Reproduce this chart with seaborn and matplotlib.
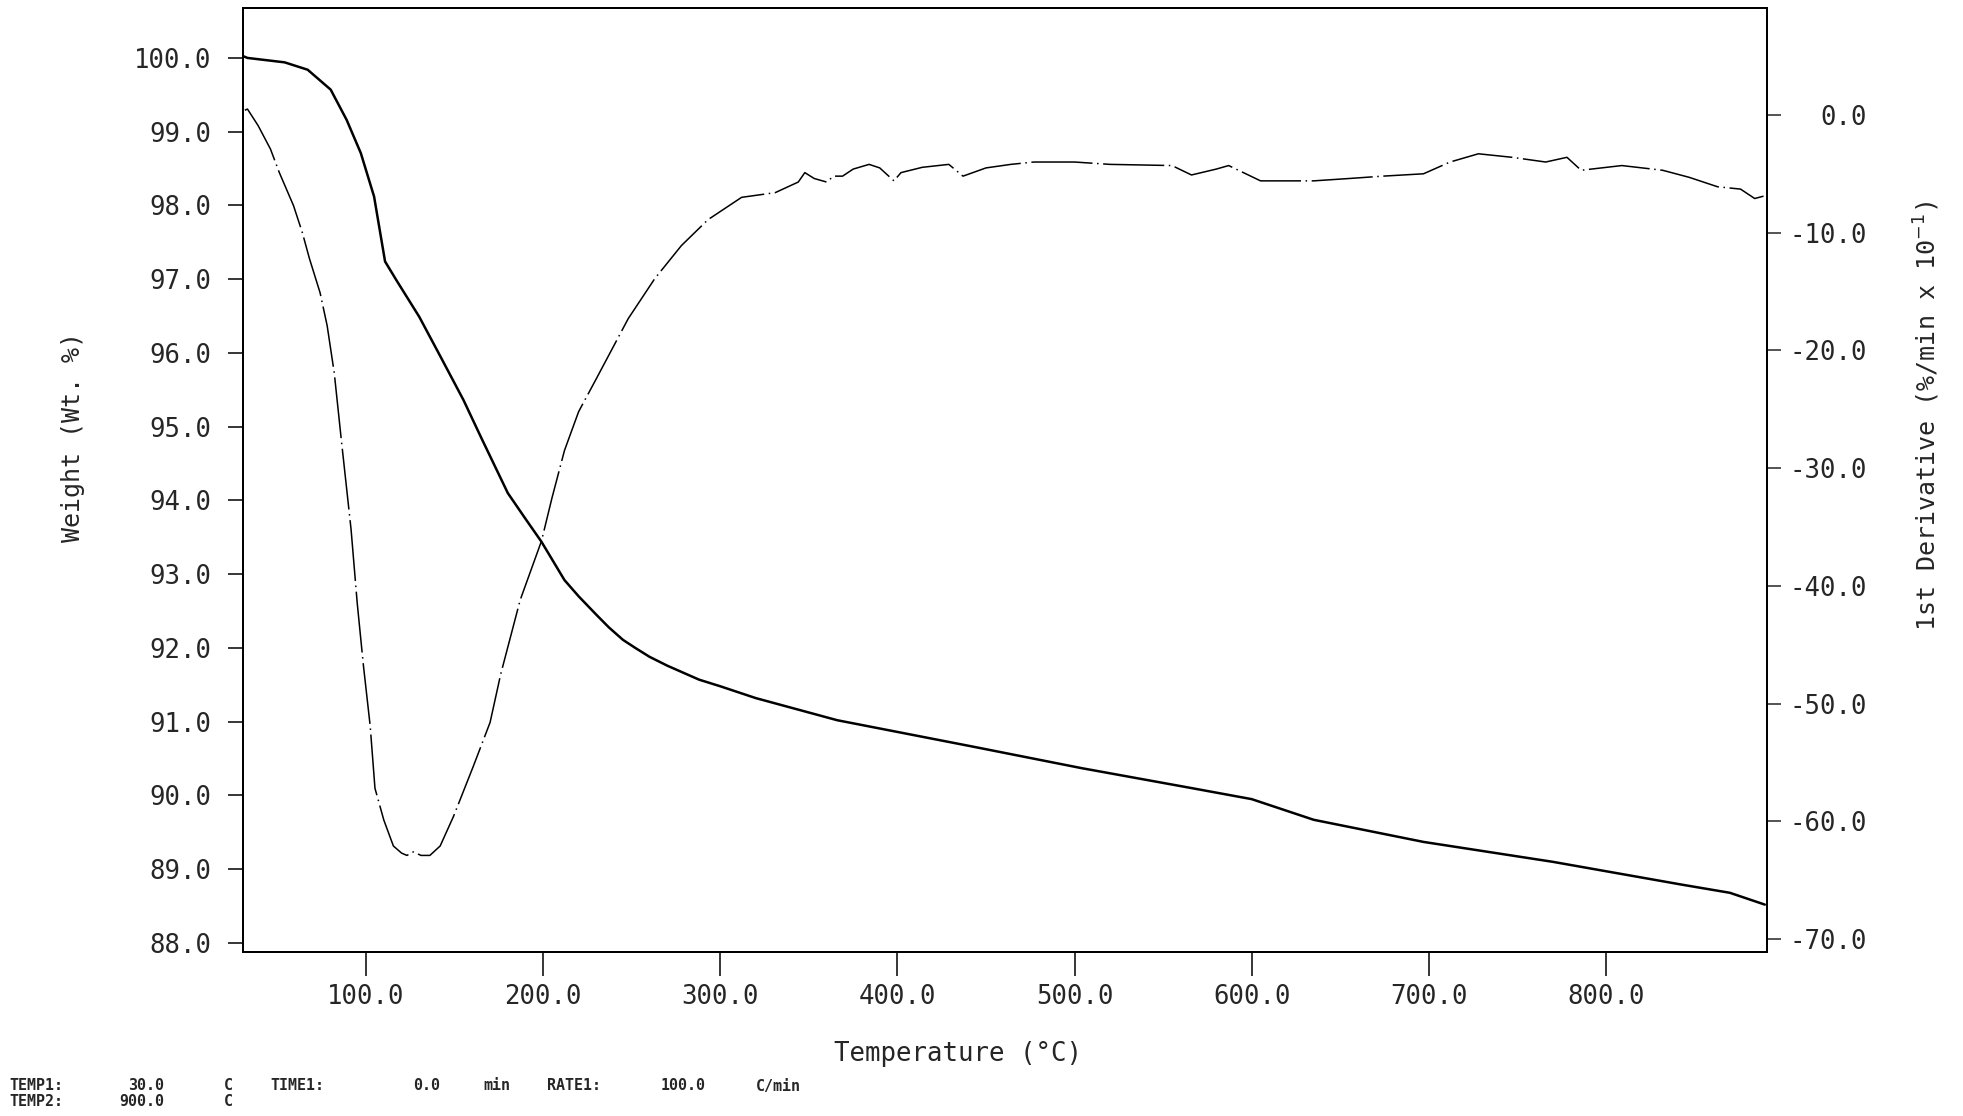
import matplotlib
matplotlib.use("Agg")
import pandas as pd
import matplotlib.pyplot as plt
import seaborn as sns
from matplotlib.ticker import FixedLocator, FormatStrFormatter

# weight loss curve (solid)
temp_tga = [31, 33, 54, 67, 80, 89, 97, 104.5, 110.7, 117, 130, 142, 155, 165,
            172, 180, 190, 199, 205, 212, 220, 230, 237, 245, 252, 260, 270,
            288, 300, 320, 366, 443, 504, 566, 600, 635, 697, 770, 843, 870,
            889.7]
weight = [100.02, 100.0, 99.94, 99.84, 99.57, 99.16, 98.71, 98.12, 97.24, 96.99,
          96.49, 95.95, 95.36, 94.85, 94.5, 94.1, 93.75, 93.44, 93.2, 92.92,
          92.7, 92.45, 92.28, 92.11, 92.0, 91.88, 91.76, 91.57, 91.48, 91.32,
          91.02, 90.66, 90.37, 90.10, 89.95, 89.67, 89.37, 89.10, 88.79, 88.68,
          88.52]

# 1st derivative curve (dash-dot)
temp_dtg = [31.5, 33, 39, 46, 51, 59, 64, 68, 74, 78, 82, 86, 91.5, 95, 98.5,
            102.3, 105, 110, 115.4, 120, 123, 126.7, 131, 136, 141.8, 149.3,
            160.6, 170, 176, 187, 199, 205, 212, 220, 230, 248, 263, 278, 293,
            312, 331, 344, 347.7, 353, 360, 364, 369, 375, 384, 390, 398, 402,
            414, 429, 437, 450, 464, 477, 500, 520, 555, 566, 580, 587, 605,
            635, 655, 674, 697, 712, 728, 747, 766, 778, 786, 809, 832, 847,
            863, 876, 884, 889]
deriv = [0.4, 0.5, -0.9, -2.9, -4.9, -7.7, -10.0, -12.2, -15.1, -17.9, -21.9,
         -27.6, -35.2, -41.5, -46.8, -51.9, -57.2, -59.9, -62.1, -62.7, -62.9,
         -62.6, -62.9, -62.9, -62.1, -59.6, -55.3, -51.6, -47.5, -41.2, -36.2,
         -32.5, -28.5, -25.2, -22.4, -17.3, -13.9, -11.1, -8.9, -7.0, -6.6,
         -5.7, -4.9, -5.4, -5.7, -5.2, -5.2, -4.6, -4.2, -4.5, -5.6, -4.9,
         -4.45, -4.2, -5.2, -4.5, -4.2, -4.0, -4.0, -4.2, -4.3, -5.1, -4.6,
         -4.3, -5.6, -5.6, -5.4, -5.2, -5.0, -4.0, -3.3, -3.6, -4.0, -3.6,
         -4.7, -4.3, -4.7, -5.3, -6.1, -6.3, -7.1, -6.9]

temp_ticks = [100, 200, 300, 400, 500, 600, 700, 800]
weight_ticks = [88, 89, 90, 91, 92, 93, 94, 95, 96, 97, 98, 99, 100]
deriv_ticks = [0, -10, -20, -30, -40, -50, -60, -70]

# instrument footer, line 1 and line 2
footer1 = ['TEMP1:', '30.0', 'C', 'TIME1:', '0.0', 'min', 'RATE1:', '100.0', 'C/min']
footer2 = ['TEMP2:', '900.0', 'C']

sns.set_style("ticks")
plt.rcParams['font.family'] = ['DejaVu Sans Mono']
plt.rcParams['axes.unicode_minus'] = False
plt.rcParams['mathtext.fontset'] = 'dejavusans'

fig = plt.figure(figsize=(19.63, 11.16), dpi=100)
ax = fig.add_axes([0.1238, 0.1470, 0.7764, 0.8459])

tga = pd.DataFrame({'Temperature': temp_tga, 'Weight': weight})
sns.lineplot(data=tga, x='Temperature', y='Weight', ax=ax, color='black',
             linewidth=1.8, estimator=None, sort=False)

ax2 = ax.twinx()
dtg = pd.DataFrame({'Temperature': temp_dtg, 'Deriv': deriv})
sns.lineplot(data=dtg, x='Temperature', y='Deriv', ax=ax2, color='black',
             linewidth=1.1, estimator=None, sort=False)
ax2.lines[0].set_linestyle((0, (40, 3, 1, 3)))

ax.set_xlim(30.5, 891)
ax.set_ylim(87.878, 100.678)
ax2.set_ylim(-71.1, 9.09)

ax.xaxis.set_major_locator(FixedLocator(temp_ticks))
ax.yaxis.set_major_locator(FixedLocator(weight_ticks))
ax2.yaxis.set_major_locator(FixedLocator(deriv_ticks))
ax.xaxis.set_major_formatter(FormatStrFormatter('%.1f'))
ax.yaxis.set_major_formatter(FormatStrFormatter('%.1f'))
ax2.yaxis.set_major_formatter(FormatStrFormatter('%.1f'))

ax.set_xlabel('')
ax.set_ylabel('')
ax2.set_ylabel('')

for a in (ax, ax2):
    for s in a.spines.values():
        s.set_linewidth(1.4)
        s.set_color('black')
        s.set_visible(True)

ax.tick_params(axis='x', direction='out', length=17, width=1.3, pad=6,
               labelsize=18.5, top=False)
ax.tick_params(axis='y', direction='out', length=11, width=1.3, pad=11.5,
               labelsize=18.5)
ax2.tick_params(axis='y', direction='out', length=10, width=1.1, pad=62,
                labelsize=18.5)
for lab in ax2.get_yticklabels():
    lab.set_horizontalalignment('right')

fig.text(0.0372, 0.6084, 'Weight (Wt. %)', rotation=90, ha='center',
         va='center', fontsize=18)
fig.text(0.9817, 0.6272, r'1st Derivative (%/min x 10$^{-1}$)', rotation=90,
         ha='center', va='center', fontsize=18)
fig.text(0.488, 0.0556, 'Temperature (°C)', ha='center', va='center',
         fontsize=18.5)

# footer tokens placed like the plotter printout (x in pixels, alignment)
pos1 = [(9, 'left'), (164, 'right'), (224, 'left'), (270, 'left'),
        (413, 'left'), (483, 'left'), (547, 'left'), (661, 'left'), (756, 'left')]
pos2 = [(9, 'left'), (164, 'right'), (224, 'left')]
W, H = 1963, 1116
for txt, (px, ha) in zip(footer1, pos1):
    fig.text(px / W, 1 - 1086 / H, txt, ha=ha, va='center', fontsize=10.8,
             fontweight='bold')
for txt, (px, ha) in zip(footer2, pos2):
    fig.text(px / W, 1 - 1101 / H, txt, ha=ha, va='center', fontsize=10.8,
             fontweight='bold')

fig.savefig('out.png', dpi=100)
